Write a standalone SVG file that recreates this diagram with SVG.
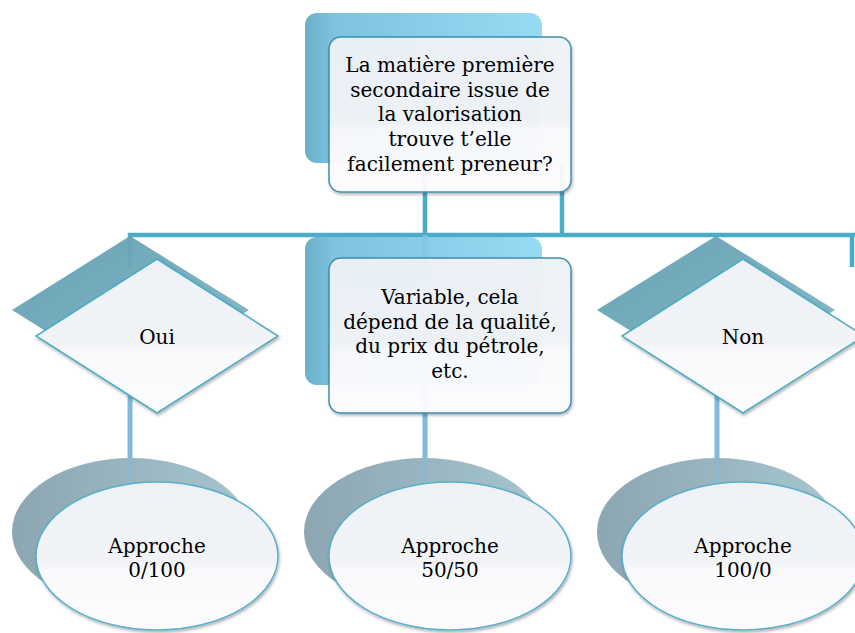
<svg xmlns="http://www.w3.org/2000/svg" width="855" height="633" viewBox="0 0 855 633">
<defs>
  <linearGradient id="gBackBox" x1="0" y1="0" x2="1" y2="0">
    <stop offset="0" stop-color="#5FA8C4"/>
    <stop offset="0.12" stop-color="#72BEDC"/>
    <stop offset="1" stop-color="#8FD7F3"/>
  </linearGradient>
  <linearGradient id="gBackDia" x1="0" y1="0" x2="1" y2="1">
    <stop offset="0" stop-color="#5F9DB1"/>
    <stop offset="1" stop-color="#86B9C6"/>
  </linearGradient>
  <linearGradient id="gBackEll" x1="0" y1="0" x2="1" y2="0">
    <stop offset="0" stop-color="#8CA6B2"/>
    <stop offset="1" stop-color="#A6C6CE"/>
  </linearGradient>
  <linearGradient id="gFront" x1="0" y1="0" x2="0" y2="1">
    <stop offset="0" stop-color="#EEF2F6"/>
    <stop offset="0.55" stop-color="#F1F3F7"/>
    <stop offset="0.6" stop-color="#FAFAFD"/>
    <stop offset="1" stop-color="#FCFCFE"/>
  </linearGradient>
  <filter id="sh" x="-10%" y="-10%" width="120%" height="120%">
    <feDropShadow dx="1" dy="2" stdDeviation="1.5" flood-color="#000" flood-opacity="0.3"/>
  </filter>
</defs>
<style>
  .conn { stroke: #4BACC6; stroke-width: 4.5; fill: none; }
  .conn2 { stroke: #7FB9DB; stroke-width: 5; fill: none; }
  .bbox { fill: url(#gBackBox); opacity: 0.92; }
  .fbox { fill: url(#gFront); stroke: #3A8CAB; stroke-width: 1.5; filter: url(#sh); opacity: 0.96; }
  .bdia { fill: url(#gBackDia); opacity: 0.95; }
  .fdia { fill: url(#gFront); stroke: #4BACC6; stroke-width: 1.5; filter: url(#sh); }
  .bell { fill: url(#gBackEll); }
  .fell { fill: url(#gFront); stroke: #5AAFCB; stroke-width: 1.5; filter: url(#sh); }
  text { font-family: "DejaVu Serif", "Liberation Serif", serif; font-size: 20px; fill: #000; text-anchor: middle; }
</style>

<g id="connectors">
  <path class="conn" d="M425,165 V235 M562,165 V235 M128,235 H855 M130,233 V267 M852,233 V267"/>
  <path class="conn2" d="M425,235 V482 M130,386 V458 M717,386 V482"/>
</g>

<g id="top-node">
  <rect class="bbox" x="305" y="13" width="237" height="150" rx="12"/>
  <rect class="fbox" x="329" y="37" width="242" height="155" rx="12"/>
  <text x="450" y="72">La matière première</text>
  <text x="450" y="96.7">secondaire issue de</text>
  <text x="450" y="121.4">la valorisation</text>
  <text x="450" y="146.1">trouve t’elle</text>
  <text x="450" y="170.8">facilement preneur?</text>
</g>

<g id="oui">
  <polygon class="bdia" points="130,236 249,310 130,384 12,310"/>
  <polygon class="fdia" points="157,259 278,336 157,413 36,336"/>
  <text x="157" y="344">Oui</text>
</g>

<g id="variable">
  <rect class="bbox" x="305" y="237" width="237" height="148" rx="12"/>
  <rect class="fbox" x="329" y="258" width="242" height="155" rx="12"/>
  <text x="450" y="304">Variable, cela</text>
  <text x="450" y="328.7">dépend de la qualité,</text>
  <text x="450" y="353.4">du prix du pétrole,</text>
  <text x="450" y="378">etc.</text>
</g>

<g id="non">
  <polygon class="bdia" points="716,236 835,310 716,384 597,310"/>
  <polygon class="fdia" points="743,259 864,336 743,413 622,336"/>
  <text x="743" y="344">Non</text>
</g>

<g id="approche-0-100">
  <ellipse class="bell" cx="131" cy="532" rx="119" ry="74"/>
  <path class="conn2" d="M130,458 V482" opacity="0.5"/>
  <ellipse class="fell" cx="157" cy="556" rx="121" ry="74"/>
  <text x="157" y="553">Approche</text>
  <text x="157" y="577">0/100</text>
</g>

<g id="approche-50-50">
  <ellipse class="bell" cx="424" cy="532" rx="120" ry="74"/>
  <path class="conn2" d="M425,458 V482" opacity="0.5"/>
  <ellipse class="fell" cx="450" cy="556" rx="121" ry="74"/>
  <text x="450" y="553">Approche</text>
  <text x="450" y="577">50/50</text>
</g>

<g id="approche-100-0">
  <ellipse class="bell" cx="717" cy="532" rx="120" ry="74"/>
  <path class="conn2" d="M717,458 V482" opacity="0.5"/>
  <ellipse class="fell" cx="743" cy="556" rx="121" ry="74"/>
  <text x="743" y="553">Approche</text>
  <text x="743" y="577">100/0</text>
</g>
</svg>
